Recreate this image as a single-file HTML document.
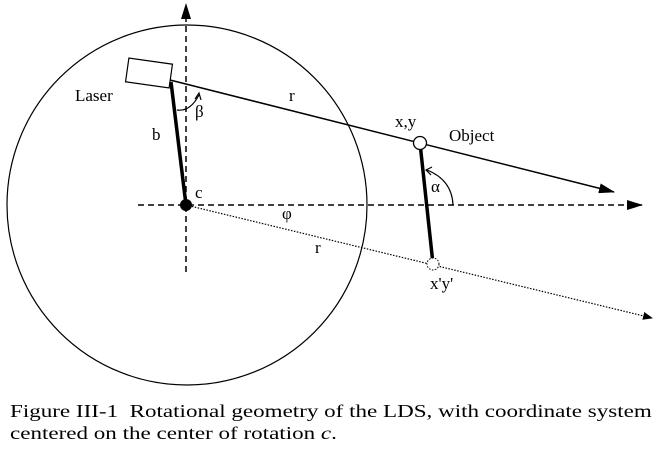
<!DOCTYPE html>
<html><head><style>
body{margin:0;background:#fff;width:666px;height:459px;overflow:hidden;font-family:"Liberation Serif",serif;}
.l{position:absolute;left:10px;font-size:18px;line-height:22px;white-space:nowrap;transform:scaleX(1.28);transform-origin:0 0;}
</style></head><body>
<svg width="666" height="459" style="position:absolute;left:0;top:0" font-family="Liberation Serif, serif" font-size="17">
<defs>
<marker id="a" markerWidth="10" markerHeight="8" refX="9" refY="4" orient="auto" markerUnits="userSpaceOnUse"><path d="M0,0L10,4L0,8z" fill="#000"/></marker>
<marker id="b" markerWidth="16" markerHeight="10" refX="15" refY="5" orient="auto" markerUnits="userSpaceOnUse"><path d="M0,0L16,5L0,10z" fill="#000"/></marker>
</defs>
<circle cx="187" cy="205" r="180" fill="none" stroke="#000" stroke-width="1.2"/>
<line x1="186" y1="272" x2="186" y2="4" stroke="#000" stroke-width="1.5" stroke-dasharray="6,4" marker-end="url(#b)"/>
<line x1="138" y1="205" x2="642" y2="205" stroke="#000" stroke-width="1.5" stroke-dasharray="6,4" marker-end="url(#b)"/>
<line x1="186" y1="205" x2="652" y2="318" stroke="#000" stroke-width="1.2" stroke-dasharray="1.5,1.5" marker-end="url(#a)"/>
<line x1="170" y1="80" x2="614" y2="192" stroke="#000" stroke-width="1.5" marker-end="url(#b)"/>
<rect x="-22" y="-12" width="44" height="24" fill="#fff" stroke="#000" stroke-width="1.2" transform="translate(149,73) rotate(8)"/>
<line x1="171" y1="82" x2="186" y2="205" stroke="#000" stroke-width="3.5"/>
<line x1="420" y1="143" x2="433" y2="264" stroke="#000" stroke-width="3.5"/>
<circle cx="186" cy="205" r="6" fill="#000"/>
<circle cx="420" cy="143" r="6.5" fill="#fff" stroke="#000" stroke-width="1.3"/>
<circle cx="433" cy="264" r="6" fill="#fff" stroke="#000" stroke-width="1" stroke-dasharray="1.5,1.5"/>
<path d="M177,110 Q190,112 199,95" fill="none" stroke="#000" stroke-width="1.2"/>
<path d="M195,99 L199,93 L201,100" fill="none" stroke="#000" stroke-width="1.2"/>
<path d="M453,205 Q452,180 427,170" fill="none" stroke="#000" stroke-width="1.2"/>
<path d="M432,167 L426,170 L431,175" fill="none" stroke="#000" stroke-width="1.2"/>
<text x="75" y="101">Laser</text>
<text x="289" y="101">r</text>
<text x="195" y="117">β</text>
<text x="152" y="140">b</text>
<text x="195" y="198">c</text>
<text x="395" y="127">x,y</text>
<text x="449" y="141">Object</text>
<text x="431" y="192">α</text>
<text x="282" y="219">φ</text>
<text x="315" y="253">r</text>
<text x="430" y="289">x'y'</text>
</svg>
<div class="l" style="top:400px">Figure III-1&nbsp; Rotational geometry of the LDS, with coordinate system</div>
<div class="l" style="top:422px">centered on the center of rotation <i>c</i>.</div>
</body></html>
